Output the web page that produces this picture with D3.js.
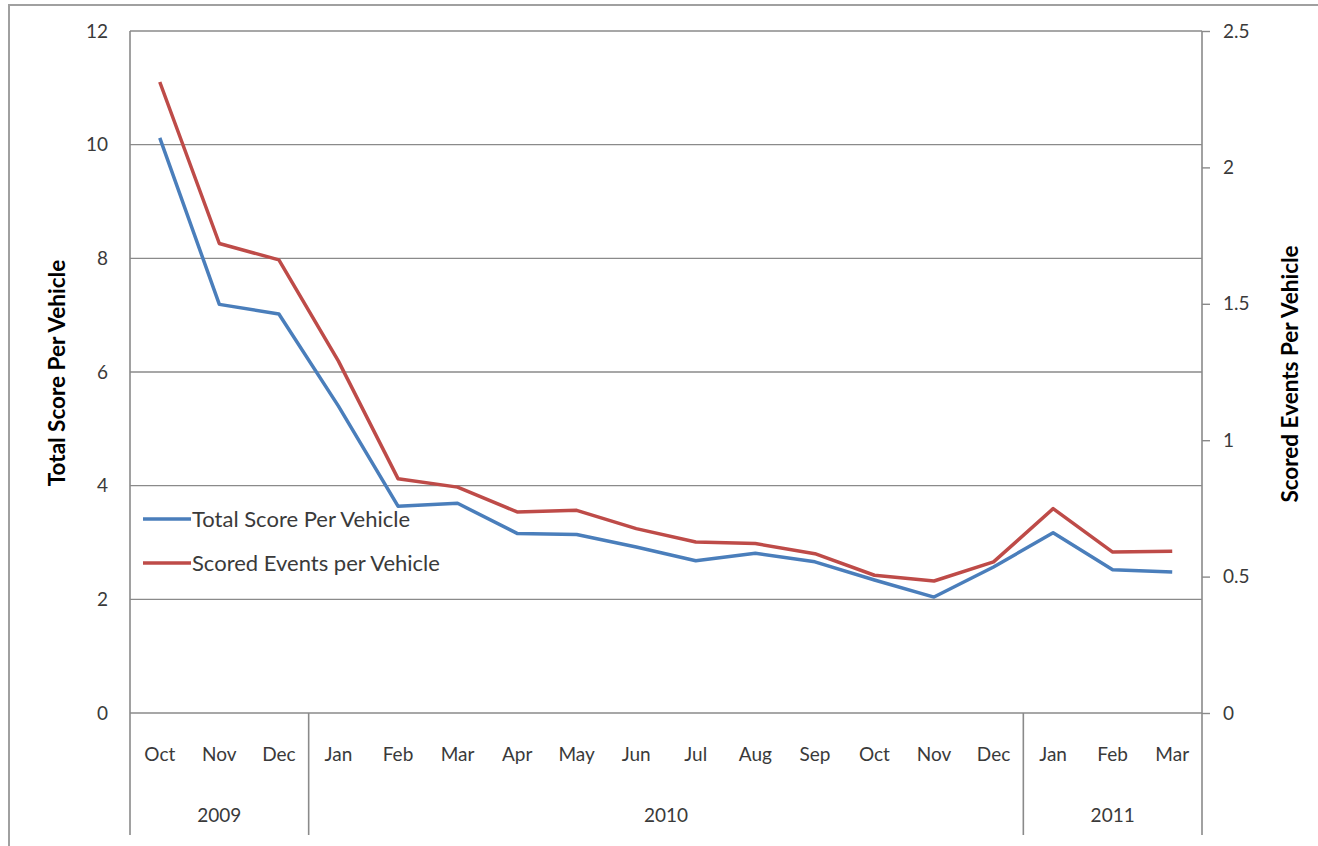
<!DOCTYPE html>
<html><head><meta charset="utf-8">
<script src="https://cdn.jsdelivr.net/npm/d3@7"></script>
<style>
html,body{margin:0;padding:0;background:#fff;}
svg{display:block;font-family:Lato,"Open Sans",sans-serif;}
</style></head>
<body>
<svg id="chart" width="1318" height="846"></svg>
<script>
const months = ["Oct","Nov","Dec","Jan","Feb","Mar","Apr","May","Jun","Jul","Aug","Sep","Oct","Nov","Dec","Jan","Feb","Mar"];
const years = [{label:"2009", count:3},{label:"2010", count:12},{label:"2011", count:3}];
const totalScore = [10.12,7.19,7.02,5.4,3.64,3.69,3.16,3.14,2.92,2.68,2.81,2.66,2.34,2.04,2.57,3.17,2.52,2.48];
const scoredEvents = [2.313,1.721,1.661,1.29,0.859,0.828,0.737,0.743,0.676,0.627,0.621,0.584,0.505,0.484,0.554,0.749,0.590,0.593];
const leftTicks = [0,2,4,6,8,10,12];
const rightTicks = [0,0.5,1,1.5,2,2.5];

const svg = d3.select("#chart");
const L = 130, R = 1202, T = 31, B = 713, AXB = 835;
const textColor = "#3a3a3a", gridColor = "#8a8a8a";
const tickFont = "19px";

// outer border
svg.append("rect").attr("x",9).attr("y",5).attr("width",1320).attr("height",850)
  .attr("fill","none").attr("stroke","#a0a0a0").attr("stroke-width",2);

const idx = months.map((m,i)=>i);
const x = d3.scaleBand().domain(idx).range([L,R]).padding(0);
const yL = d3.scaleLinear().domain([0,12]).range([B,T]);
const yR = d3.scaleLinear().domain([0,2.5]).range([B,T]);

// gridlines
svg.append("g").selectAll("line").data(leftTicks.filter(d=>d>0)).join("line")
  .attr("x1",L).attr("x2",R).attr("y1",d=>yL(d)).attr("y2",d=>yL(d))
  .attr("stroke",gridColor).attr("stroke-width",1.4);

// left axis labels
const gl = svg.append("g").attr("transform",`translate(${L},0)`)
  .call(d3.axisLeft(yL).tickValues(leftTicks).tickSize(0).tickPadding(22).tickFormat(d3.format("d")));
gl.select(".domain").remove();
gl.selectAll("text").attr("fill",textColor).style("font-size",tickFont).style("font-family","Lato,'Open Sans',sans-serif");

// right axis
const gr = svg.append("g").attr("transform",`translate(${R},0)`)
  .call(d3.axisRight(yR).tickValues(rightTicks).tickSize(8).tickPadding(13).tickFormat(d=>String(d)));
gr.select(".domain").remove();
gr.selectAll("line").attr("stroke",gridColor).attr("stroke-width",1.4);
gr.selectAll("text").attr("fill",textColor).style("font-size",tickFont).style("font-family","Lato,'Open Sans',sans-serif");

// axis lines
svg.append("line").attr("x1",L).attr("x2",L).attr("y1",T).attr("y2",AXB).attr("stroke",gridColor).attr("stroke-width",1.6);
svg.append("line").attr("x1",R).attr("x2",R).attr("y1",T).attr("y2",AXB).attr("stroke",gridColor).attr("stroke-width",1.6);
svg.append("line").attr("x1",L).attr("x2",R).attr("y1",B).attr("y2",B).attr("stroke",gridColor).attr("stroke-width",1.6);

// bottom month axis
const gb = svg.append("g").attr("transform",`translate(0,${B})`)
  .call(d3.axisBottom(x).tickSize(0).tickPadding(35).tickFormat(i=>months[i]));
gb.select(".domain").remove();
gb.selectAll("text").attr("fill",textColor).style("font-size",tickFont).style("font-family","Lato,'Open Sans',sans-serif");

// year separators and labels
let start = 0;
years.forEach((yr,k)=>{
  const x0 = x(start), x1 = x(start+yr.count-1)+x.bandwidth();
  if (k>0) svg.append("line").attr("x1",x0).attr("x2",x0).attr("y1",B).attr("y2",AXB).attr("stroke",gridColor).attr("stroke-width",1.6);
  svg.append("text").attr("x",(x0+x1)/2).attr("y",822).attr("text-anchor","middle")
    .attr("fill",textColor).style("font-size",tickFont).text(yr.label);
  start += yr.count;
});

// lines
const cx = i => x(i)+x.bandwidth()/2;
const lineL = d3.line().x((d,i)=>cx(i)).y(d=>yL(d));
const lineR = d3.line().x((d,i)=>cx(i)).y(d=>yR(d));
const blue = "#4a7ebb", red = "#be4b48";
svg.append("path").datum(totalScore).attr("d",lineL).attr("fill","none").attr("stroke",blue).attr("stroke-width",3.5).attr("stroke-linejoin","round");
svg.append("path").datum(scoredEvents).attr("d",lineR).attr("fill","none").attr("stroke",red).attr("stroke-width",3.5).attr("stroke-linejoin","round");

// legend
const legend = [{name:"Total Score Per Vehicle", color:blue, y:519},{name:"Scored Events per Vehicle", color:red, y:563}];
legend.forEach(d=>{
  svg.append("line").attr("x1",143).attr("x2",191).attr("y1",d.y).attr("y2",d.y).attr("stroke",d.color).attr("stroke-width",3.5);
  svg.append("text").attr("x",192).attr("y",d.y+7.5).attr("fill",textColor).style("font-size","22px").text(d.name);
});

// axis titles
svg.append("text").attr("transform","translate(65,373) rotate(-90)").attr("text-anchor","middle")
  .attr("fill","#000").style("font-size","22.5px").style("font-weight","bold").text("Total Score  Per Vehicle");
svg.append("text").attr("transform","translate(1298,374) rotate(-90)").attr("text-anchor","middle")
  .attr("fill","#000").style("font-size","22.5px").style("font-weight","bold").text("Scored Events Per Vehicle");
</script>
</body></html>
